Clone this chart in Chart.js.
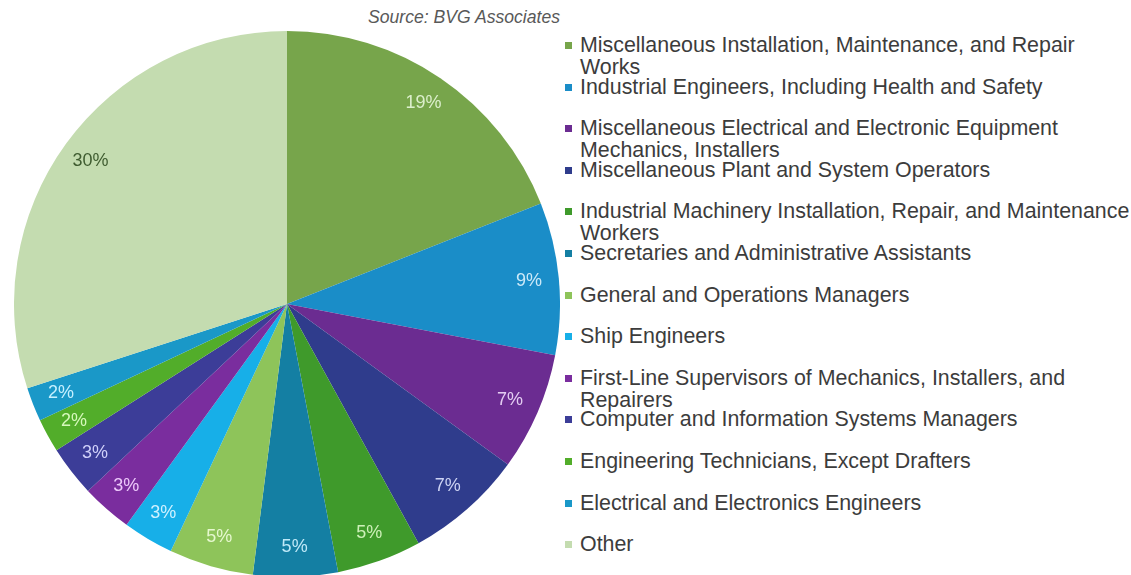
<!DOCTYPE html>
<html>
<head>
<meta charset="utf-8">
<script src="https://cdn.jsdelivr.net/npm/chart.js@4"></script>
<style>
    html, body { margin: 0; padding: 0; background: #fff; overflow: hidden; }
    body { width: 1131px; height: 575px; position: relative; font-family: "Liberation Sans", Arial, sans-serif; }
    #source { position: absolute; right: 571px; top: 7px; font-size: 17.6px; font-style: italic; color: #595959; white-space: nowrap; }
    #pieBox { position: absolute; left: 14px; top: 31px; width: 546px; height: 546px; }
    #legend { position: absolute; left: 0; top: 0; }
    .leg-item { position: absolute; left: 580px; font-size: 21.4px; line-height: 22px; color: #3c3c3c; white-space: nowrap; }
    .leg-box { position: absolute; left: -15px; top: 8px; width: 7px; height: 7px; }
</style>
</head>
<body>
<div id="source">Source: BVG Associates</div>
<div id="pieBox"><canvas id="pie"></canvas></div>
<div id="legend"></div>
<script>
// ================= DADOS =================
const categories = [
    ['Miscellaneous Installation, Maintenance, and Repair', 'Works'],
    ['Industrial Engineers, Including Health and Safety'],
    ['Miscellaneous Electrical and Electronic Equipment', 'Mechanics, Installers'],
    ['Miscellaneous Plant and System Operators'],
    ['Industrial Machinery Installation, Repair, and Maintenance', 'Workers'],
    ['Secretaries and Administrative Assistants'],
    ['General and Operations Managers'],
    ['Ship Engineers'],
    ['First-Line Supervisors of Mechanics, Installers, and', 'Repairers'],
    ['Computer and Information Systems Managers'],
    ['Engineering Technicians, Except Drafters'],
    ['Electrical and Electronics Engineers'],
    ['Other']
];
const shares = [19, 9, 7, 7, 5, 5, 5, 3, 3, 3, 2, 2, 30];
const valueLabels = ['19%', '9%', '7%', '7%', '5%', '5%', '5%', '3%', '3%', '3%', '2%', '2%', '30%'];

const sliceColors = ['#77a54b', '#1a8dc8', '#6b2c91', '#2f3c8c', '#3f9a2b', '#147fa3', '#8ec45a',
                     '#17afe8', '#7a2d9e', '#3c3d98', '#52ad2a', '#1a98c8', '#c4dcb0'];
const labelColors = ['#dcefcc', '#cce9f8', '#e4cdf2', '#cdd3f3', '#cdf0b8', '#bfe9f8', '#e6f8cf',
                     '#cff1ff', '#ecc8fa', '#d0d0fa', '#d6f8bc', '#c6f0ff', '#3f5c30'];

// ================= RÓTULOS NAS FATIAS =================
const sliceLabels = {
    id: 'sliceLabels',
    afterDatasetsDraw(chart) {
        const ctx = chart.ctx;
        const meta = chart.getDatasetMeta(0);
        ctx.save();
        ctx.font = '18px "Liberation Sans", Arial, sans-serif';
        ctx.textAlign = 'center';
        ctx.textBaseline = 'middle';
        meta.data.forEach((arc, i) => {
            const p = arc.getProps(['x', 'y', 'startAngle', 'endAngle', 'outerRadius'], true);
            const mid = (p.startAngle + p.endAngle) / 2;
            const r = p.outerRadius * 0.89;
            ctx.fillStyle = labelColors[i];
            ctx.fillText(valueLabels[i], p.x + Math.cos(mid) * r, p.y + Math.sin(mid) * r);
        });
        ctx.restore();
    }
};

new Chart(document.getElementById('pie'), {
    type: 'pie',
    data: {
        labels: categories,
        datasets: [{ data: shares, backgroundColor: sliceColors, borderWidth: 0 }]
    },
    options: {
        responsive: true,
        maintainAspectRatio: false,
        animation: false,
        layout: { padding: 0 },
        plugins: { legend: { display: false }, tooltip: { enabled: false } }
    },
    plugins: [sliceLabels]
});

// ================= LEGENDA =================
const legend = document.getElementById('legend');
legend.innerHTML = categories.map((lines, i) => `
    <div class="leg-item" style="top:${34 + i * 41.6}px">
        <span class="leg-box" style="background:${sliceColors[i]}"></span>${lines.join('<br>')}
    </div>
`).join('');
</script>
</body>
</html>
